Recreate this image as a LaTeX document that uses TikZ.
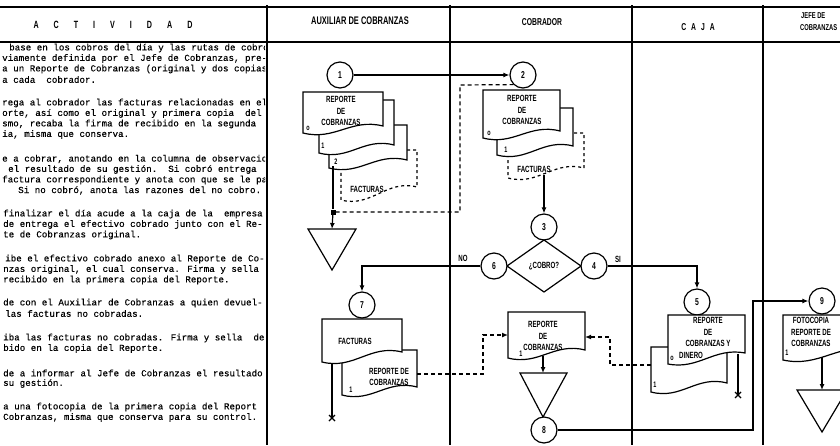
\documentclass[tikz,border=0pt]{standalone}
\usepackage{fontspec}
\setmainfont{Liberation Sans}
\newfontfamily\lblfont[FakeStretch=0.68]{Liberation Sans}
\newfontfamily\typefont[FakeBold=0.3]{Liberation Mono}
\usetikzlibrary{arrows.meta}
\newcommand{\docshp}[7][]{\path[docb,#1] (#2,#3) -- (#4,#3) -- (#4,#6) .. controls ({#4-0.4*(#4-#2)},{#6-#7}) and ({#2+0.4*(#4-#2)},{#5+#7}) .. (#2,#5) -- cycle;}
\newcommand{\xmark}[1]{\draw[conn] (#1) ++(-3,-3) -- ++(6,6) (#1) ++(-3,3) -- ++(6,-6);}
\tikzset{
  lane/.style={line width=1.4pt},
  conn/.style={line width=1.2pt},
  arr/.style={conn,-{Latex[length=6pt,width=5pt]}},
  dconn/.style={conn,dash pattern=on 4pt off 3pt},
  darr/.style={dconn,-{Latex[length=6pt,width=5pt]}},
  num/.style={circle,draw,line width=1.2pt,minimum size=26pt,inner sep=0pt,font=\lblfont\bfseries\fontsize{10}{10}\selectfont,fill=white},
  lbl/.style={font=\lblfont\bfseries\fontsize{9}{11.5}\selectfont,inner sep=0pt,align=center},
  hdr/.style={font=\lblfont\bfseries\fontsize{11}{11}\selectfont,inner sep=0pt},
  hdrs/.style={font=\lblfont\bfseries\fontsize{8.5}{11}\selectfont,inner sep=0pt},
  act/.style={font=\typefont\fontsize{9.2}{10}\selectfont,anchor=west,inner sep=0pt},
  docb/.style={draw,line width=1.2pt,fill=white},
  tiny/.style={font=\lblfont\bfseries\fontsize{8}{8}\selectfont,inner sep=0pt},
  arch/.style={draw,line width=1.2pt},
}
\begin{document}
\begin{tikzpicture}[x=1pt,y=-1pt]
\useasboundingbox (0,0) rectangle (840,445);
\clip (0,0) rectangle (840,445);
% lanes
\draw[lane] (0,7) -- (840,7);
\draw[lane] (0,42) -- (840,42);
\foreach \x in {267,450,632,763} \draw[lane] (\x,5) -- (\x,445);
% headers
\node[hdr,font=\lblfont\bfseries\fontsize{10.5}{10}\selectfont] (hA) at (113,25) {A\hskip15pt C\hskip15pt T\hskip15pt I\hskip15pt V\hskip15pt I\hskip15pt D\hskip15pt A\hskip15pt D};
\node[hdr] (hB) at (360,21) {AUXILIAR DE COBRANZAS};
\node[hdr,font=\lblfont\bfseries\fontsize{10}{10}\selectfont] (hC) at (542,22) {COBRADOR};
\node[hdr,font=\lblfont\bfseries\fontsize{10}{10}\selectfont] (hD) at (698,27) {C\hskip5pt A\hskip5pt J\hskip5pt A};
\node[hdrs,anchor=west] (hE1) at (801,16) {JEFE DE};
\node[hdrs,anchor=west] (hE2) at (800,28) {COBRANZAS};
% activity text
\begin{scope}
\clip (0,0) rectangle (265,445);
\node[act] (a1) at (9,48) {base en los cobros del día y las rutas de cobro};
\node[act] (a2) at (2,58.5) {viamente definida por el Jefe de Cobranzas, pre-};
\node[act] (a3) at (2,69) {a un Reporte de Cobranzas (original y dos copias};
\node[act] (a4) at (2,79.5) {a cada\ \ cobrador.};
\node[act] (a5) at (2,103) {rega al cobrador las facturas relacionadas en el};
\node[act] (a6) at (2,113.5) {orte, así como el original y primera copia\ \ del};
\node[act] (a7) at (2,124) {smo, recaba la firma de recibido en la segunda\ \ -};
\node[act] (a8) at (2,134.5) {ia, misma que conserva.};
\node[act] (a9) at (2,159) {e a cobrar, anotando en la columna de observacio};
\node[act] (a10) at (8,169.5) {el resultado de su gestión.\ \ Si cobró entrega};
\node[act] (a11) at (2,180) {factura correspondiente y anota con que se le pa};
\node[act] (a12) at (18,190.5) {Si no cobró, anota las razones del no cobro.};
\node[act] (a13) at (3,214) {finalizar el día acude a la caja de la\ \ empresa};
\node[act] (a14) at (3,224.5) {de entrega el efectivo cobrado junto con el Re-};
\node[act] (a15) at (3,235) {te de Cobranzas original.};
\node[act] (a16) at (5,259) {ibe el efectivo cobrado anexo al Reporte de Co-};
\node[act] (a17) at (3,269.5) {nzas original, el cual conserva. Firma y sella};
\node[act] (a18) at (3,280) {recibido en la primera copia del Reporte.};
\node[act] (a19) at (3,303) {de con el Auxiliar de Cobranzas a quien devuel-};
\node[act] (a20) at (5,313.5) {las facturas no cobradas.};
\node[act] (a21) at (3,338) {iba las facturas no cobradas. Firma y sella\ \ de};
\node[act] (a22) at (3,348.5) {bido en la copia del Reporte.};
\node[act] (a23) at (3,373) {de a informar al Jefe de Cobranzas el resultado};
\node[act] (a24) at (3,383.5) {su gestión.};
\node[act] (a25) at (3,407) {a una fotocopia de la primera copia del Report};
\node[act] (a26) at (3,417.5) {Cobranzas, misma que conserva para su control.};
\end{scope}
% ===== Auxiliar: top stack
\docshp[dashed]{341}{150}{417}{200}{187}{8}
\docshp{329}{125}{407}{168}{160}{8}
\docshp{319}{100}{394}{153}{145}{8}
\docshp{303}{92}{383}{133}{126}{8}
\node[lbl] (d1t) at (341,111) {REPORTE\\DE\\COBRANZAS};
\node[tiny] (d1o) at (308,128) {o};
\node[tiny] (d1a) at (323,146) {1};
\node[tiny] (d1b) at (336,162) {2};
\node[lbl] (d1f) at (367,189) {FACTURAS};
\node[num] (c1) at (340,75) {1};
\node[num] (c2) at (523,75) {2};
\draw[arr] (c1) -- (c2);
\coordinate (s1) at (333,166);
\node[fill,inner sep=0pt,minimum size=5pt] (j1) at (333,212) {};
\coordinate (t1) at (332,229);
\draw[conn] (s1) -- (j1);
\draw[arr] (j1) -- (t1);
\draw[arch] (308,229) -- (356,229) -- (332,270) -- cycle;
\draw[dconn] (j1) -| (460,85) -- (c2.south west);
% ===== Cobrador: top stack
\docshp[dashed]{508}{133}{584}{178}{168}{8}
\docshp{497}{108}{573}{155}{146}{8}
\docshp{483}{90}{560}{138}{131}{8}
\node[lbl] (d2t) at (522,110) {REPORTE\\DE\\COBRANZAS};
\node[tiny] (d2o) at (489,133) {o};
\node[tiny] (d2a) at (506,150) {1};
\node[lbl] (d2f) at (534,169) {FACTURAS};
\coordinate (s2) at (544,175);
\node[num] (c3) at (544,227) {3};
\draw[arr] (s2) -- (c3);
\draw[line width=1.2pt] (544,240) -- (581,266) -- (544,292) -- (507,266) -- cycle;
\node[lbl] (q) at (544,266) {¿COBRO?};
\node[num] (c6) at (494,266) {6};
\node[num] (c4) at (594,266) {4};
\node[lbl] (lno) at (463,258) {NO};
\node[lbl] (lsi) at (618,259) {SI};
\node[num] (c7) at (362,305) {7};
\node[num] (c5) at (697,302) {5};
\draw[arr] (c6) -| (c7);
\draw[arr] (c4) -| (c5);
% ===== Auxiliar: lower docs
\docshp{342}{350}{417}{395}{387}{8}
\docshp{322}{319}{402}{362}{352}{8}
\node[lbl] (d3f) at (355,341) {FACTURAS};
\node[lbl] (d3r) at (389,377) {REPORTE DE\\COBRANZAS};
\node[tiny] (d3a) at (351,390) {1};
\coordinate (s3) at (332,364);
\coordinate (x3) at (332,418);
\draw[conn] (s3) -- (x3);
\xmark{x3}
% ===== Cobrador: lower doc
\docshp{508}{312}{585}{358}{350}{8}
\node[lbl] (d4t) at (543,336) {REPORTE\\DE\\COBRANZAS};
\node[tiny] (d4a) at (521,354) {1};
\coordinate (cdW) at (508,335);
\coordinate (cdE) at (585,337);
\coordinate (raE) at (417,374);
\draw[darr] (raE) -- (483,374) |- (cdW);
\coordinate (s4) at (543,356);
\coordinate (t2) at (543,373);
\draw[arr] (s4) -- (t2);
\draw[arch] (520,373) -- (567,373) -- (543,417) -- cycle;
\node[num] (c8) at (544,430) {8};
% ===== Caja docs
\docshp{651}{347}{727}{392}{383}{8}
\docshp{668}{315}{745}{364}{353}{6}
\node[lbl] (d5t) at (708,332) {REPORTE\\DE\\COBRANZAS Y};
\node[lbl,anchor=west] (d5d) at (679,355) {DINERO};
\node[tiny] (d5o) at (672,358) {o};
\node[tiny] (d5a) at (655,385) {1};
\coordinate (cjW) at (651,365);
\draw[darr] (cjW) -- (610,365) |- (cdE);
\coordinate (s5) at (738,354);
\coordinate (x5) at (738,395);
\draw[conn] (s5) -- (x5);
\xmark{x5}
% ===== Jefe
\node[num] (c9) at (822,301) {9};
\draw[arr] (c8) -- (753,430) |- (c9);
\docshp{783}{315}{875}{360}{350}{8}
\node[lbl] (d6t) at (811,332) {FOTOCOPIA\\REPORTE DE\\COBRANZAS};
\node[tiny] (d6a) at (787,353) {1};
\coordinate (s6) at (822,357);
\coordinate (t3) at (822,390);
\draw[arr] (s6) -- (t3);
\draw[arch] (797,390) -- (847,390) -- (822,432) -- cycle;
\end{tikzpicture}
\end{document}
